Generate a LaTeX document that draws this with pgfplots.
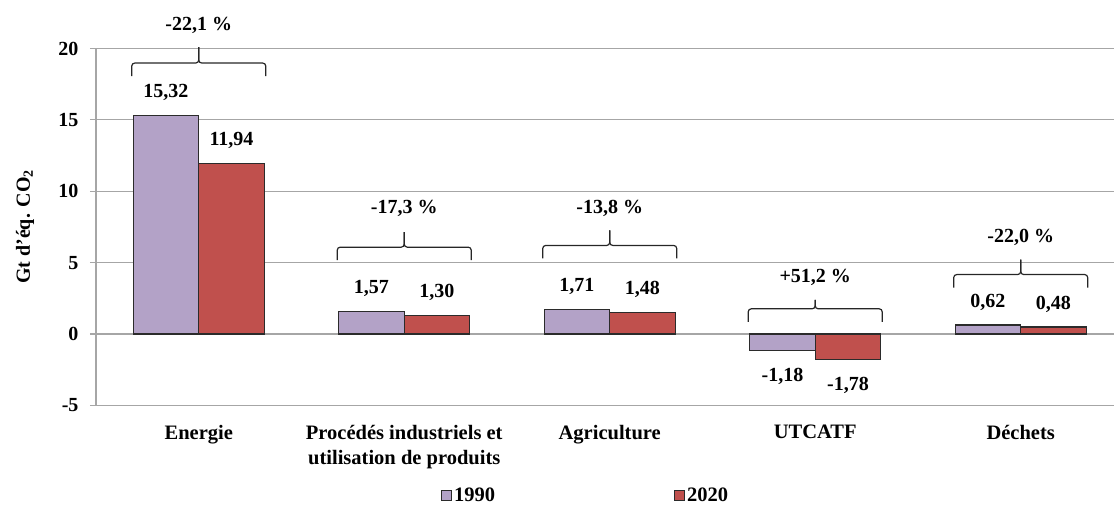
\documentclass[border=0pt]{standalone}
\usepackage{fontspec}
\setmainfont{Liberation Serif}
\usepackage{pgfplots}
\pgfplotsset{compat=1.18}
\definecolor{c1990}{HTML}{B3A2C7}
\definecolor{c2020}{HTML}{C0504D}
\definecolor{gridc}{HTML}{A6A6A6}
\definecolor{edgec}{HTML}{2B2B2B}
\newcommand\lbl{\fontsize{20}{24}\selectfont\bfseries}
\newcommand\catf{\fontsize{20.5}{25}\selectfont\bfseries}
% #1 x centre, #2 y of horizontal line, #3 y of text, #4 tip height above line (pt, minus 3), #5 label
\newcommand\brk[5]{%
  \draw[line width=1.2pt, black!85] (axis cs:#1,#2) ++(-67pt,-13pt) -- ++(0pt,10pt)
     arc[start angle=180,end angle=90,radius=3pt] -- ++(61pt,0pt)
     arc[start angle=270,end angle=360,radius=3pt] -- ++(0pt,#4pt);
  \draw[line width=1.2pt, black!85] (axis cs:#1,#2) ++(67pt,-13pt) -- ++(0pt,10pt)
     arc[start angle=0,end angle=90,radius=3pt] -- ++(-61pt,0pt)
     arc[start angle=270,end angle=180,radius=3pt] -- ++(0pt,#4pt);
  \node[font=\lbl] at (axis cs:#1,#3) {#5};
}
\begin{document}
\begin{tikzpicture}
\begin{axis}[
  name=ax,
  scale only axis,
  width=1018pt, height=356.8pt,
  xmin=-0.5, xmax=4.454,
  ymin=-5, ymax=20,
  ytick={-5,0,5,10,15,20},
  xtick={0,1,2,3,4},
  xticklabels={Energie,{Procédés industriels et\\utilisation de produits},Agriculture,UTCATF,Déchets},
  xticklabel style={font=\catf, align=center, anchor=north, yshift=-10pt},
  yticklabel style={font=\lbl, xshift=-8pt},
  /pgf/number format/assume math mode=true,
  axis x line=bottom, axis y line=left,
  axis line style={-, gridc, line width=1.2pt},
  x axis line style={draw=gridc},
  ymajorgrids, major grid style={gridc, line width=1.2pt},
  ytick style={gridc, line width=1.2pt}, major tick length=6pt, tick align=outside,
  xtick style={draw=none},
  ylabel={Gt d'éq. CO\textsubscript{2}},
  ylabel style={font=\lbl, at={(axis description cs:-0.0697,0.5)}, anchor=center},
  ybar=0pt, bar width=65.5pt,
  clip=false,
  nodes near coords,
  visualization depends on={rawy \as \myy},
  every node near coord/.append style={font=\lbl, anchor=center, yshift={(\myy>0)*49pt-26pt},
     /pgf/number format/.cd, use comma, fixed, fixed zerofill, precision=2, assume math mode=true},
  legend columns=2,
  legend style={draw=none, fill=none, at={(0.336,-0.254)}, anchor=west, font=\fontsize{20.5}{24}\selectfont\bfseries,
     /tikz/every even column/.append style={column sep=177pt}},
]
\addplot[fill=c1990, draw=edgec, line width=1.2pt,
  legend image code/.code={\draw[fill=c1990, draw=edgec, line width=1pt] (0pt,-5pt) rectangle (10pt,5pt);}]
  coordinates {(0,15.32) (1,1.57) (2,1.71) (3,-1.18) (4,0.62)};
\addplot[fill=c2020, draw=edgec, line width=1.2pt,
  legend image code/.code={\draw[fill=c2020, draw=edgec, line width=1pt] (0pt,-5pt) rectangle (10pt,5pt);}]
  coordinates {(0,11.94) (1,1.30) (2,1.48) (3,-1.78) (4,0.48)};
\legend{1990,2020}
\brk{0}{18.98}{21.65}{13}{-22,1 \%}
\brk{1}{6.08}{8.8}{12}{-17,3 \%}
\brk{2}{6.2}{8.78}{12}{-13,8 \%}
\brk{3}{1.76}{3.95}{6}{+51,2 \%}
\brk{4}{4.16}{6.78}{12}{-22,0 \%}
\end{axis}
\pgfresetboundingbox
\path[use as bounding box] ([xshift=-96pt,yshift=-103.7pt]ax.south west) rectangle ([yshift=48.5pt]ax.north east);
\end{tikzpicture}
\end{document}
